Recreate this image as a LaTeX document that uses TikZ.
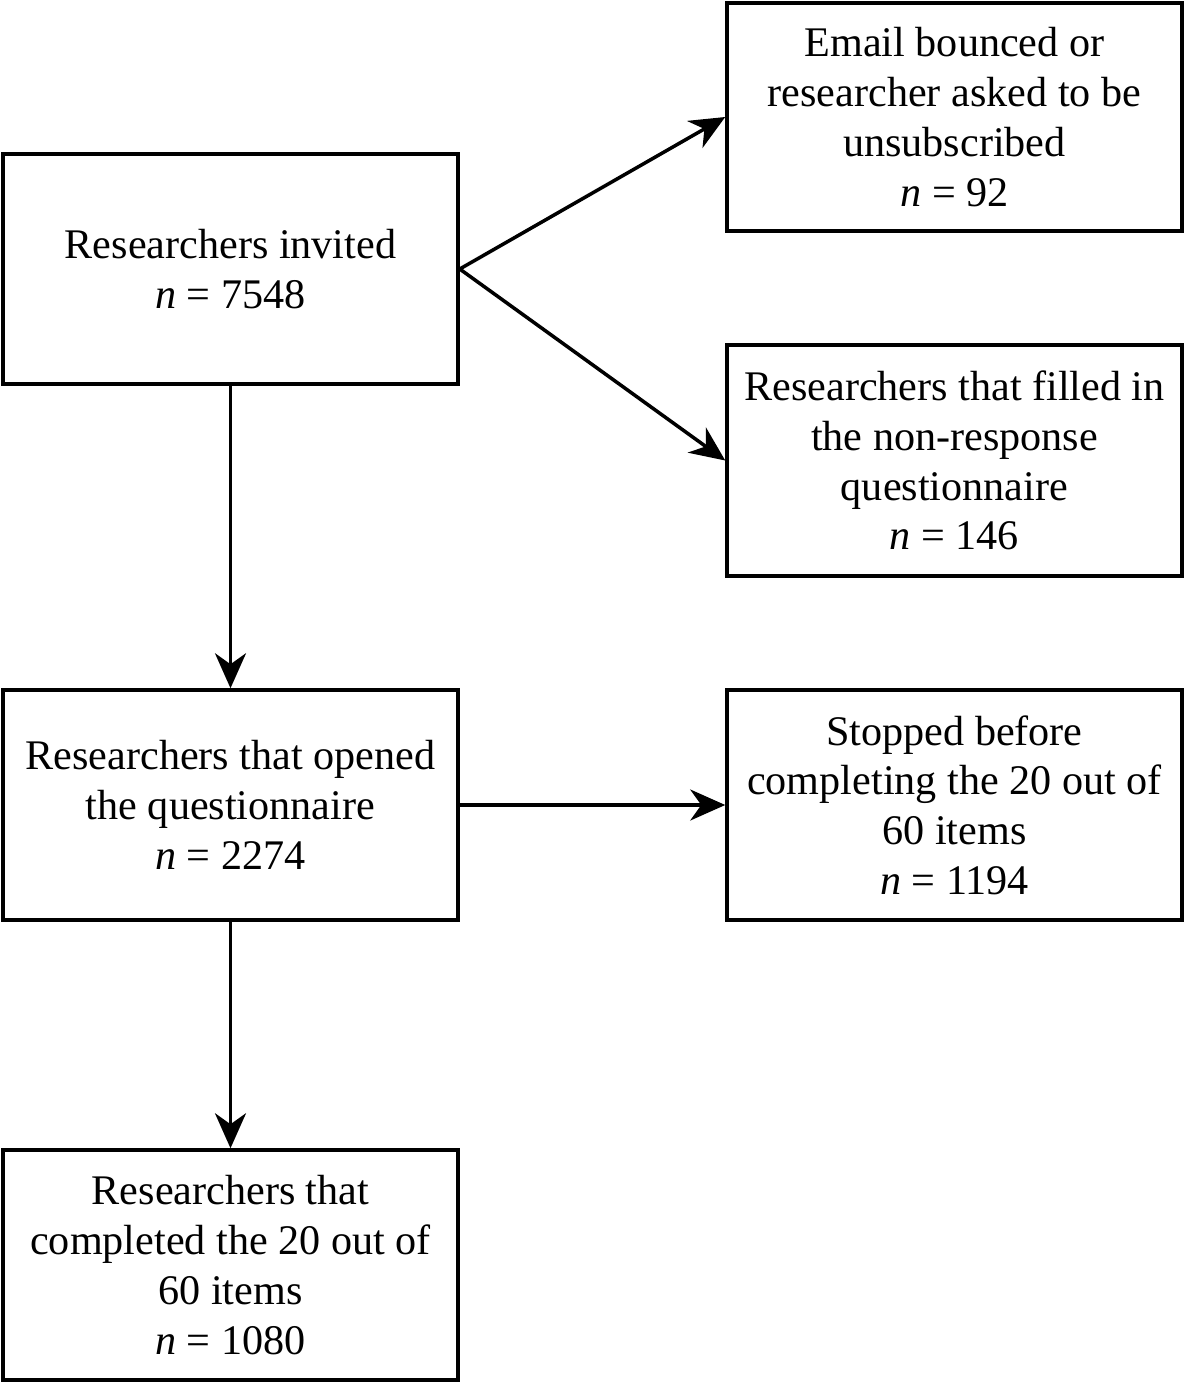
\documentclass[tikz,border=0pt]{standalone}
\usepackage{fontspec}
\setmainfont{Liberation Serif}
\usetikzlibrary{arrows.meta}
\begin{document}
\begin{tikzpicture}[
  box/.style={draw, line width=2pt, minimum width=9.1cm, minimum height=4.6cm,
    align=center, inner sep=0pt, font=\fontsize{24pt}{28.3pt}\selectfont},
  arr/.style={line width=2pt, -{Stealth[length=0.7cm,width=0.62cm,inset=0.22cm]}}
]
\useasboundingbox (0,0) rectangle (23.7,-27.64);
\node[box] (A) at (4.61,-5.38) {Researchers invited\\\textit{n} = 7548};
\node[box, minimum height=4.56cm] (B) at (19.09,-2.34) {Email bounced or\\researcher asked to be\\unsubscribed\\\textit{n} = 92};
\node[box, minimum height=4.62cm] (C) at (19.09,-9.21) {Researchers that filled in\\the non-response\\questionnaire\\\textit{n} = 146};
\node[box] (D) at (4.61,-16.1) {Researchers that opened\\the questionnaire\\\textit{n} = 2274};
\node[box] (E) at (19.09,-16.1) {Stopped before\\completing the 20 out of\\60 items\\\textit{n} = 1194};
\node[box] (F) at (4.61,-25.3) {Researchers that\\completed the 20 out of\\60 items\\\textit{n} = 1080};
\draw[arr] (A.east) -- (B.west);
\draw[arr] (A.east) -- (C.west);
\draw[arr] (A.south) -- (D.north);
\draw[arr] (D.east) -- (E.west);
\draw[arr] (D.south) -- (F.north);
\end{tikzpicture}
\end{document}
